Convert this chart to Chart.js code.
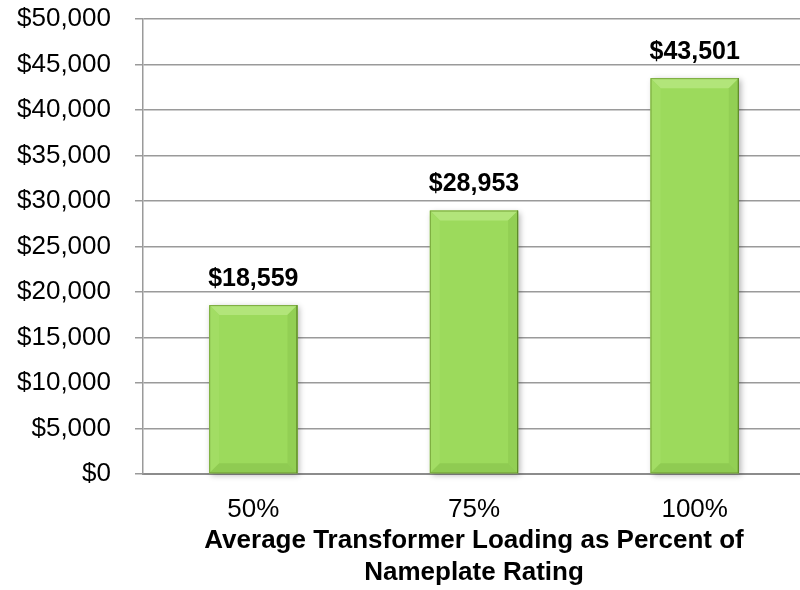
<!DOCTYPE html>
<html>
<head>
<meta charset="utf-8">
<script src="https://cdn.jsdelivr.net/npm/chart.js@4.4.1/dist/chart.umd.min.js"></script>
<style>
    html, body { margin: 0; padding: 0; background: #fff; overflow: hidden; }
    #wrap { width: 805px; height: 590px; }
</style>
</head>
<body>
<div id="wrap"><canvas id="cost-chart" width="805" height="590"></canvas></div>
<script>
// Cost by transformer loading
const loadingLevels = ["50%", "75%", "100%"];
const costValues = [18559, 28953, 43501];
const axisTitle = ["Average Transformer Loading as Percent of", "Nameplate Rating"];

const money = v => '$' + Number(v).toLocaleString('en-US');
const FONT = '"Liberation Sans", Arial, sans-serif';

// Bevelled green bars, drawn in place of the plain bar rectangles
const bevelBars = {
    id: 'bevelBars',
    beforeDatasetsDraw(chart) {
        const ctx = chart.ctx;
        chart.getDatasetMeta(0).data.forEach(bar => {
            const w = bar.width;
            const x0 = bar.x - w / 2, x1 = bar.x + w / 2;
            const y0 = bar.y, y1 = bar.base;
            const b = 10;
            ctx.save();
            // soft shadow
            ctx.shadowColor = 'rgba(0,0,0,0.3)';
            ctx.shadowBlur = 6;
            ctx.shadowOffsetX = 2;
            ctx.shadowOffsetY = 2;
            ctx.fillStyle = '#9cda5c';
            ctx.fillRect(x0, y0, w, y1 - y0);
            ctx.restore();

            ctx.save();
            // top bevel
            ctx.fillStyle = '#b2e57a';
            ctx.beginPath();
            ctx.moveTo(x0, y0); ctx.lineTo(x1, y0);
            ctx.lineTo(x1 - b, y0 + b); ctx.lineTo(x0 + b, y0 + b);
            ctx.closePath(); ctx.fill();
            // left bevel
            ctx.fillStyle = '#a2dd64';
            ctx.beginPath();
            ctx.moveTo(x0, y0); ctx.lineTo(x0 + b, y0 + b);
            ctx.lineTo(x0 + b, y1 - b); ctx.lineTo(x0, y1);
            ctx.closePath(); ctx.fill();
            // right bevel
            ctx.fillStyle = '#92cf54';
            ctx.beginPath();
            ctx.moveTo(x1, y0); ctx.lineTo(x1 - b, y0 + b);
            ctx.lineTo(x1 - b, y1 - b); ctx.lineTo(x1, y1);
            ctx.closePath(); ctx.fill();
            // bottom bevel
            ctx.fillStyle = '#8fcb52';
            ctx.beginPath();
            ctx.moveTo(x0, y1); ctx.lineTo(x1, y1);
            ctx.lineTo(x1 - b, y1 - b); ctx.lineTo(x0 + b, y1 - b);
            ctx.closePath(); ctx.fill();
            // outline, darker on the right
            ctx.strokeStyle = '#7aa83e';
            ctx.lineWidth = 1;
            ctx.strokeRect(x0 + 0.5, y0 + 0.5, w - 1, y1 - y0 - 1);
            ctx.strokeStyle = '#5a8526';
            ctx.beginPath();
            ctx.moveTo(x1 - 0.5, y0); ctx.lineTo(x1 - 0.5, y1);
            ctx.stroke();
            ctx.restore();
        });
    }
};

// Value labels above each bar
const valueLabels = {
    id: 'valueLabels',
    afterDatasetsDraw(chart) {
        const ctx = chart.ctx;
        const ds = chart.data.datasets[0];
        ctx.save();
        ctx.font = 'bold 25px ' + FONT;
        ctx.fillStyle = '#000';
        ctx.textAlign = 'center';
        ctx.textBaseline = 'middle';
        chart.getDatasetMeta(0).data.forEach((bar, i) => {
            ctx.fillText(money(ds.data[i]), bar.x, bar.y - 26);
        });
        ctx.restore();
    }
};

const costCanvas = document.getElementById("cost-chart");
let costChart = new Chart(costCanvas, {
    type: 'bar',
    data: {
        labels: loadingLevels,
        datasets: [{
            data: costValues,
            backgroundColor: 'rgba(0,0,0,0)',
            borderWidth: 0,
            barPercentage: 0.4,
            categoryPercentage: 1
        }]
    },
    options: {
        responsive: false,
        animation: false,
        layout: { padding: { top: 19, left: 0, right: 0, bottom: 0 } },
        plugins: {
            legend: { display: false },
            tooltip: { enabled: false }
        },
        scales: {
            x: {
                afterFit: s => { s.height = 116; s.paddingLeft = 0; s.paddingRight = 0; },
                grid: { display: false },
                border: { color: '#8c8c8c', width: 2 },
                ticks: {
                    color: '#000',
                    padding: 12,
                    font: { family: FONT, size: 26 }
                },
                title: {
                    display: true,
                    text: axisTitle,
                    color: '#000',
                    padding: { top: 4, bottom: 2 },
                    font: { family: FONT, size: 26, weight: 'bold', lineHeight: 1.2 }
                }
            },
            y: {
                min: 0,
                max: 50000,
                afterFit: s => { s.width = 143; s.paddingTop = 0; s.paddingBottom = 0; },
                grid: { color: '#9a9a9a', lineWidth: 1.5, tickLength: 8 },
                border: { color: '#9a9a9a', width: 1.5 },
                ticks: {
                    stepSize: 5000,
                    color: '#000',
                    padding: 24,
                    callback: v => money(v),
                    font: { family: FONT, size: 26 }
                }
            }
        }
    },
    plugins: [bevelBars, valueLabels]
});
</script>
</body>
</html>
